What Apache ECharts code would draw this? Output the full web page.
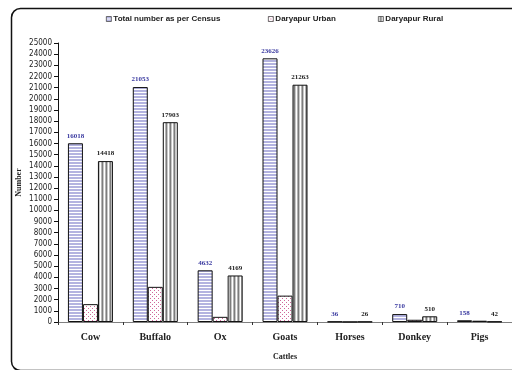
<!DOCTYPE html>
<html>
<head>
<meta charset="utf-8">
<script src="https://cdn.jsdelivr.net/npm/echarts@6/dist/echarts.min.js"></script>
<style>
  html, body { margin: 0; padding: 0; background: #fff; }
  #chart { width: 512px; height: 370px; }
</style>
</head>
<body>
<div id="chart"></div>
<script>
// Livestock counts by type
const categories = ['Cow', 'Buffalo', 'Ox', 'Goats', 'Horses', 'Donkey', 'Pigs'];
const totalCensus = [16018, 21053, 4632, 23626, 36, 710, 158];
const urbanCounts = [1600, 3150, 463, 2363, 10, 200, 116];
const ruralCounts = [14418, 17903, 4169, 21263, 26, 510, 42];
const yTicks = { min: 0, max: 25000, step: 1000 };

// Small tile canvases used as fill patterns
function tile(w, h, draw) {
  const c = document.createElement('canvas');
  c.width = w; c.height = h;
  draw(c.getContext('2d'));
  return { image: c, repeat: 'repeat' };
}
const hStripes = tile(4, 3, g => {
  g.fillStyle = '#ffffff'; g.fillRect(0, 0, 4, 3);
  g.fillStyle = '#b3b3e0'; g.fillRect(0, 0, 4, 2);
});
const dots = tile(4, 4, g => {
  g.fillStyle = '#ffffff'; g.fillRect(0, 0, 4, 4);
  g.fillStyle = '#d0679a';
  g.fillRect(0, 0, 1, 1);
  g.fillRect(2, 2, 1, 1);
});
const vStripes = tile(4, 4, g => {
  g.fillStyle = '#ffffff'; g.fillRect(0, 0, 4, 4);
  g.fillStyle = '#b4b4b4'; g.fillRect(1, 0, 1, 4);
  g.fillStyle = '#7c7c7c'; g.fillRect(2, 0, 1, 4);
  g.fillStyle = '#c8c8c8'; g.fillRect(3, 0, 1, 4);
});

const serif = '"Liberation Serif", "Times New Roman", serif';
const sans = '"Liberation Sans", Arial, sans-serif';
const narrow = '"Liberation Sans Narrow", "DejaVu Sans Condensed", sans-serif';

const legendText = { fontFamily: sans, fontWeight: 'bold', fontSize: 8, color: '#222' };
function legendAt(name, left) {
  return {
    data: [name], left: left, top: 10, icon: 'rect',
    itemWidth: 5, itemHeight: 5, itemGap: 0,
    itemStyle: { borderColor: '#333', borderWidth: 0.7 },
    textStyle: Object.assign({ padding: [0, 0, 0, -3] }, legendText)
  };
}

const chart = echarts.init(document.getElementById('chart'), null, { renderer: 'canvas' });
chart.setOption({
  animation: false,
  backgroundColor: '#ffffff',
  graphic: [{
    type: 'rect', left: 9, top: 6, z: -1,
    shape: { width: 540, height: 362, r: 9 },
    style: { fill: 'none', stroke: '#111', lineWidth: 1.5 }
  }],
  legend: [
    legendAt('Total number as per Census', 101),
    legendAt('Daryapur Urban', 263),
    legendAt('Daryapur Rural', 373)
  ],
  grid: { left: 58, right: -4, top: 43, bottom: 48 },
  xAxis: {
    type: 'category', data: categories,
    name: 'Cattles', nameLocation: 'middle', nameGap: 31, nameMoveOverlap: false,
    nameTextStyle: { fontFamily: serif, fontWeight: 'bold', fontSize: 8, color: '#222' },
    axisLine: { lineStyle: { color: '#808080', width: 1.2 } },
    axisTick: { show: true, length: 3, lineStyle: { color: '#333' } },
    axisLabel: { fontFamily: serif, fontWeight: 'bold', fontSize: 10, color: '#222', margin: 10 }
  },
  yAxis: {
    type: 'value', min: yTicks.min, max: yTicks.max, interval: yTicks.step,
    name: 'Number', nameLocation: 'middle', nameGap: 35, nameRotate: 90, nameMoveOverlap: false,
    nameTextStyle: { fontFamily: serif, fontWeight: 'bold', fontSize: 8, color: '#222' },
    axisLine: { show: true, lineStyle: { color: '#111', width: 1 } },
    axisTick: { show: true, length: 4, lineStyle: { color: '#111' } },
    splitLine: { show: false },
    axisLabel: {
      fontFamily: narrow, fontSize: 8, color: '#222', margin: 6,
      formatter: v => String(v)
    }
  },
  series: [
    {
      name: 'Total number as per Census', type: 'bar', data: totalCensus,
      barWidth: 15, barGap: '0%',
      itemStyle: { color: hStripes, borderColor: '#111', borderWidth: 1 },
      label: { show: true, position: 'top', distance: 4, fontFamily: serif, fontWeight: 'bold', fontSize: 7, color: '#3a3aa0' }
    },
    {
      name: 'Daryapur Urban', type: 'bar', data: urbanCounts,
      barWidth: 15, barGap: '0%',
      itemStyle: { color: dots, borderColor: '#111', borderWidth: 1 }
    },
    {
      name: 'Daryapur Rural', type: 'bar', data: ruralCounts,
      barWidth: 15, barGap: '0%',
      itemStyle: { color: vStripes, borderColor: '#111', borderWidth: 1 },
      label: { show: true, position: 'top', distance: 4, fontFamily: serif, fontWeight: 'bold', fontSize: 7, color: '#222' }
    }
  ]
});
</script>
</body>
</html>
